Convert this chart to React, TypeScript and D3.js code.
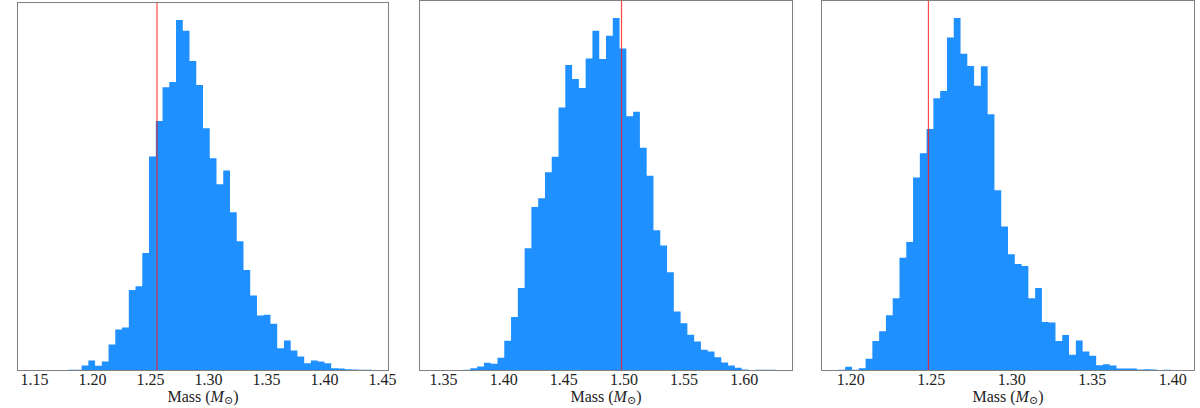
import React from "react";
import * as d3 from "d3";

// ---- data ----
const panelNames = ["A", "B", "C"];
const massMin = [1.1499, 1.3441, 1.19231];
const massMax = [1.4406, 1.6261, 1.40293];
const referenceMass = [1.2556, 1.498, 1.2482];
const ticks1 = [1.15, 1.2, 1.25, 1.3, 1.35, 1.4, 1.45];
const ticks2 = [1.35, 1.4, 1.45, 1.5, 1.55, 1.6];
const ticks3 = [1.2, 1.25, 1.3, 1.35, 1.4];
const counts1 = [
  1, 1, 0, 0, 0, 2, 2, 15, 30, 14, 27, 78, 123, 129, 242, 253, 353, 642, 749, 850,
  866, 1052, 1020, 929, 857, 727, 637, 559, 600, 475, 388, 302, 225, 165, 167, 140, 67, 90, 60, 42,
  22, 30, 27, 22, 7, 6, 4, 3, 2, 2,
];
const counts2 = [
  1, 1, 1, 1, 2, 7, 12, 23, 20, 38, 89, 161, 248, 367, 491, 517, 595, 642, 790, 917,
  875, 848, 937, 1020, 935, 1005, 1058, 967, 763, 777, 669, 585, 421, 375, 295, 177, 142, 107, 87, 62,
  57, 40, 24, 15, 8, 3, 1, 2, 2, 2,
];
const counts3 = [
  2, 11, 2, 7, 35, 89, 118, 166, 217, 339, 386, 580, 653, 726, 818, 840, 1001, 1059, 952, 915,
  856, 914, 770, 542, 433, 349, 320, 314, 217, 248, 146, 144, 89, 107, 47, 90, 57, 44, 16, 19,
  15, 6, 6, 6, 3, 4, 3, 1, 2, 1,
];
const allCounts = [counts1, counts2, counts3];
const allTicks = [ticks1, ticks2, ticks3];
const axisLabel = "Mass";

// ---- layout ----
const W = 1200;
const H = 408;
const frames = [
  { left: 17.5, right: 388.5, top: 2.5, bottom: 370.5 },
  { left: 419.5, right: 792.5, top: 0.5, bottom: 370.5 },
  { left: 821.5, right: 1194.5, top: 0.5, bottom: 370.5 },
];
const barColor = "#1E90FF";
const font = "'Liberation Serif', 'DejaVu Serif', serif";

function Panel({ i }: { i: number }) {
  const f = frames[i];
  const counts = allCounts[i];
  const n = counts.length;
  const lo = massMin[i];
  const hi = massMax[i];
  const pad = (hi - lo) * 0.05;
  const x = d3.scaleLinear().domain([lo - pad, hi + pad]).range([f.left, f.right]);
  const maxC = d3.max(counts) as number;
  const y = d3.scaleLinear().domain([0, maxC * 1.05]).range([f.bottom, f.top]);
  const bw = (hi - lo) / n;
  const bins = counts.map((c, k) => ({ x0: lo + k * bw, x1: lo + (k + 1) * bw, c }));
  const area = d3
    .area<{ x: number; c: number }>()
    .x((d) => x(d.x))
    .y0(y(0))
    .y1((d) => y(d.c))
    .curve(d3.curveStepAfter);
  const pts = bins.map((b) => ({ x: b.x0, c: b.c }));
  pts.push({ x: hi, c: 0 });
  const mid = (f.left + f.right) / 2;
  return (
    <g>
      <path d={area(pts) || ""} fill={barColor} />
      <line
        x1={x(referenceMass[i])}
        x2={x(referenceMass[i])}
        y1={f.top}
        y2={f.bottom}
        stroke="#ff1a1a"
        strokeOpacity={0.8}
        strokeWidth={1.2}
      />
      <rect
        x={f.left}
        y={f.top}
        width={f.right - f.left}
        height={f.bottom - f.top}
        fill="none"
        stroke="#808080"
        strokeWidth={1}
      />
      {allTicks[i].map((t) => (
        <text
          key={t}
          x={x(t)}
          y={385}
          textAnchor="middle"
          fontFamily={font}
          fontSize={16}
          fill="#222"
        >
          {d3.format(".2f")(t)}
        </text>
      ))}
      <text x={mid} y={402} textAnchor="middle" fontFamily={font} fontSize={16} fill="#222">
        {axisLabel} (<tspan fontStyle="italic">M</tspan>
        <tspan dy={2} fontSize={11}>⊙</tspan>
        <tspan dy={-2}>)</tspan>
      </text>
    </g>
  );
}

export default function App() {
  return (
    <svg
      width={W}
      height={H}
      style={{ position: "absolute", left: 0, top: 0, background: "#fff" }}
    >
      <rect width={W} height={H} fill="#fff" />
      {panelNames.map((p, i) => (
        <Panel key={p} i={i} />
      ))}
    </svg>
  );
}
